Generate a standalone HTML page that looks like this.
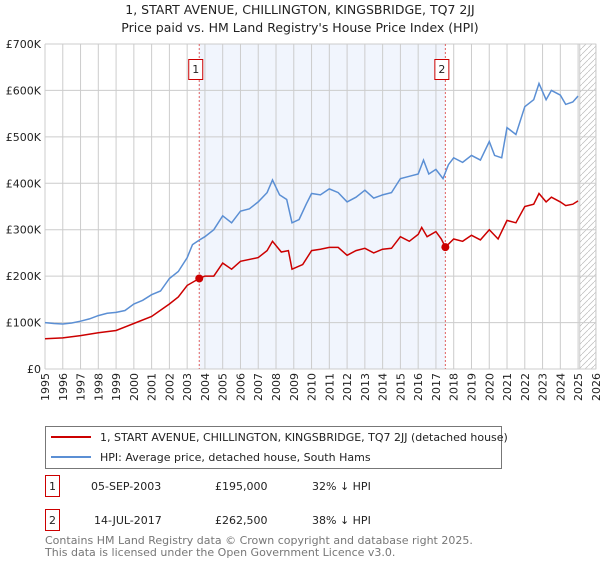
<!DOCTYPE html>
<html><head><meta charset="utf-8"><style>
body{margin:0;background:#fff;font-family:"Liberation Sans","DejaVu Sans",sans-serif;}
svg text{font-family:"DejaVu Sans","Liberation Sans",sans-serif;}
</style></head><body>
<svg id="chart" width="600" height="560" viewBox="0 0 600 560" xmlns="http://www.w3.org/2000/svg">
<text x="300" y="14" text-anchor="middle" font-size="12.5" fill="#222">1, START AVENUE, CHILLINGTON, KINGSBRIDGE, TQ7 2JJ</text>
<text x="300" y="32" text-anchor="middle" font-size="12.5" fill="#222">Price paid vs. HM Land Registry's House Price Index (HPI)</text>
<g id="plot"></g>
<g>
<rect x="45.5" y="426.5" width="456" height="42" fill="#fff" stroke="#777"/>
<line x1="51" y1="437" x2="91" y2="437" stroke="#cc0000" stroke-width="2"/>
<text x="100" y="441" font-size="11" fill="#222">1, START AVENUE, CHILLINGTON, KINGSBRIDGE, TQ7 2JJ (detached house)</text>
<line x1="51" y1="457" x2="91" y2="457" stroke="#5b8fd4" stroke-width="2"/>
<text x="100" y="461" font-size="11" fill="#222">HPI: Average price, detached house, South Hams</text>
</g>
<g font-size="11" fill="#222">
<rect x="45.5" y="475.5" width="14" height="21" fill="#fff" stroke="#cc0000"/>
<text x="52.5" y="490" text-anchor="middle">1</text>
<text x="91" y="490">05-SEP-2003</text>
<text x="215" y="490">£195,000</text>
<text x="312" y="490">32% ↓ HPI</text>
<rect x="45.5" y="509.5" width="14" height="21" fill="#fff" stroke="#cc0000"/>
<text x="52.5" y="524" text-anchor="middle">2</text>
<text x="94" y="524">14-JUL-2017</text>
<text x="215" y="524">£262,500</text>
<text x="312" y="524">38% ↓ HPI</text>
</g>
<text x="45" y="544" font-size="11" fill="#777">Contains HM Land Registry data © Crown copyright and database right 2025.</text>
<text x="45" y="556" font-size="11" fill="#777">This data is licensed under the Open Government Licence v3.0.</text>
</svg>
<script>
const hpiYears=[1995,1995.5,1996,1996.5,1997,1997.5,1998,1998.5,1999,1999.5,2000,2000.5,2001,2001.5,2002,2002.5,2003,2003.3,2003.7,2004,2004.5,2005,2005.5,2006,2006.5,2007,2007.5,2007.8,2008.2,2008.6,2008.9,2009.3,2009.7,2010,2010.5,2011,2011.5,2012,2012.5,2013,2013.5,2014,2014.5,2015,2015.5,2016,2016.3,2016.6,2017,2017.4,2017.7,2018,2018.5,2019,2019.5,2020,2020.3,2020.7,2021,2021.5,2022,2022.5,2022.8,2023.2,2023.5,2024,2024.3,2024.7,2025];
const hpiValues=[100,98,97,99,103,108,115,120,122,126,140,148,160,168,195,210,240,268,278,285,300,330,315,340,345,360,380,407,375,365,315,322,355,378,375,388,380,360,370,385,368,375,380,410,415,420,450,420,430,410,440,455,445,460,450,490,460,455,520,505,565,580,615,580,600,590,570,575,588];
const propYears=[1995,1996,1997,1998,1999,2000,2001,2002,2002.5,2003,2003.68,2004,2004.5,2005,2005.5,2006,2007,2007.5,2007.8,2008.3,2008.7,2008.9,2009.5,2010,2010.5,2011,2011.5,2012,2012.5,2013,2013.5,2014,2014.5,2015,2015.5,2016,2016.2,2016.5,2017,2017.3,2017.53,2018,2018.5,2019,2019.5,2020,2020.5,2021,2021.5,2022,2022.5,2022.8,2023.2,2023.5,2024,2024.3,2024.7,2025];
const propValues=[65,67,72,78,83,98,113,140,155,180,195,200,200,228,215,232,240,255,275,252,255,215,225,255,258,262,262,245,255,260,250,258,260,285,275,290,305,285,296,280,262.5,280,275,288,278,300,280,320,315,350,355,378,360,370,360,352,355,362];
const saleYears=[2003.68,2017.53];
const saleValues=[195,262.5];
const saleLabels=["1","2"];
const yTicks=[0,100,200,300,400,500,600,700];
const yTickLabels=["£0","£100K","£200K","£300K","£400K","£500K","£600K","£700K"];
const xTicks=[1995,1996,1997,1998,1999,2000,2001,2002,2003,2004,2005,2006,2007,2008,2009,2010,2011,2012,2013,2014,2015,2016,2017,2018,2019,2020,2021,2022,2023,2024,2025,2026];

const L=45,R=596,T=44,B=369;
const X=y=>45+(y-1995)*17.77;
const Y=v=>B-(v/700)*(B-T);
const NS="http://www.w3.org/2000/svg";
const g=document.getElementById('plot');
function mk(t,a){const e=document.createElementNS(NS,t);for(const k in a)e.setAttribute(k,a[k]);g.appendChild(e);return e;}

let e=mk('rect',{x:L,y:T,width:R-L,height:B-T,fill:'#fff'});


e=mk('rect',{x:X(saleYears[0]),y:T,width:X(saleYears[1])-X(saleYears[0]),height:B-T,fill:'#eef3fc',opacity:0.8});


const defs=document.createElementNS(NS,'defs');
defs.innerHTML='<pattern id="h" width="6" height="6" patternUnits="userSpaceOnUse"><path d="M0,6 L6,0" stroke="#bbb" stroke-width="0.7"/></pattern>';
g.appendChild(defs);
e=mk('rect',{x:X(2025.1),y:T,width:R-X(2025.1),height:B-T,fill:'url(#h)',stroke:'#999','stroke-width':0.5});


xTicks.forEach(t=>{
  const l=mk('line',{x1:X(t),x2:X(t),y1:T,y2:B,stroke:'#ccc','stroke-width':1});
  
  
  const tx=mk('text',{x:0,y:0,'text-anchor':'end','font-size':11,fill:'#222',transform:'translate('+(X(t)+4)+','+(B+4)+') rotate(-90)'});
  tx.textContent=t;
  
  
});
yTicks.forEach((t,i)=>{
  const l=mk('line',{x1:L,x2:R,y1:Y(t),y2:Y(t),stroke:'#ccc','stroke-width':1});
  
  
  const tx=mk('text',{x:L-4,y:Y(t)+4,'text-anchor':'end','font-size':11,fill:'#222'});
  tx.textContent=yTickLabels[i];
  
  
});
saleYears.forEach((s,i)=>{
  const l=mk('line',{x1:X(s),x2:X(s),y1:T,y2:B,stroke:'#e06060','stroke-width':1,'stroke-dasharray':'2,2'});
  
  
  const r=mk('rect',{x:X(s)-10.5,y:59.5,width:14,height:20,fill:'#fff',stroke:'#cc0000'});
  
  
  const tx=mk('text',{x:X(s)-3.5,y:73,'text-anchor':'middle','font-size':11,fill:'#222'});
  tx.textContent=saleLabels[i];
  
  
});
function path(xs,vs){return xs.map((x,i)=>(i?'L':'M')+X(x).toFixed(1)+','+Y(vs[i]).toFixed(1)).join(' ');}
e=mk('path',{d:path(hpiYears,hpiValues),fill:'none',stroke:'#5b8fd4','stroke-width':1.5});


e=mk('path',{d:path(propYears,propValues),fill:'none',stroke:'#cc0000','stroke-width':1.5});


saleYears.forEach((s,i)=>{
  const c=mk('circle',{cx:X(s),cy:Y(saleValues[i]),r:4,fill:'#cc0000'});
  
  
});
</script>
</body></html>
